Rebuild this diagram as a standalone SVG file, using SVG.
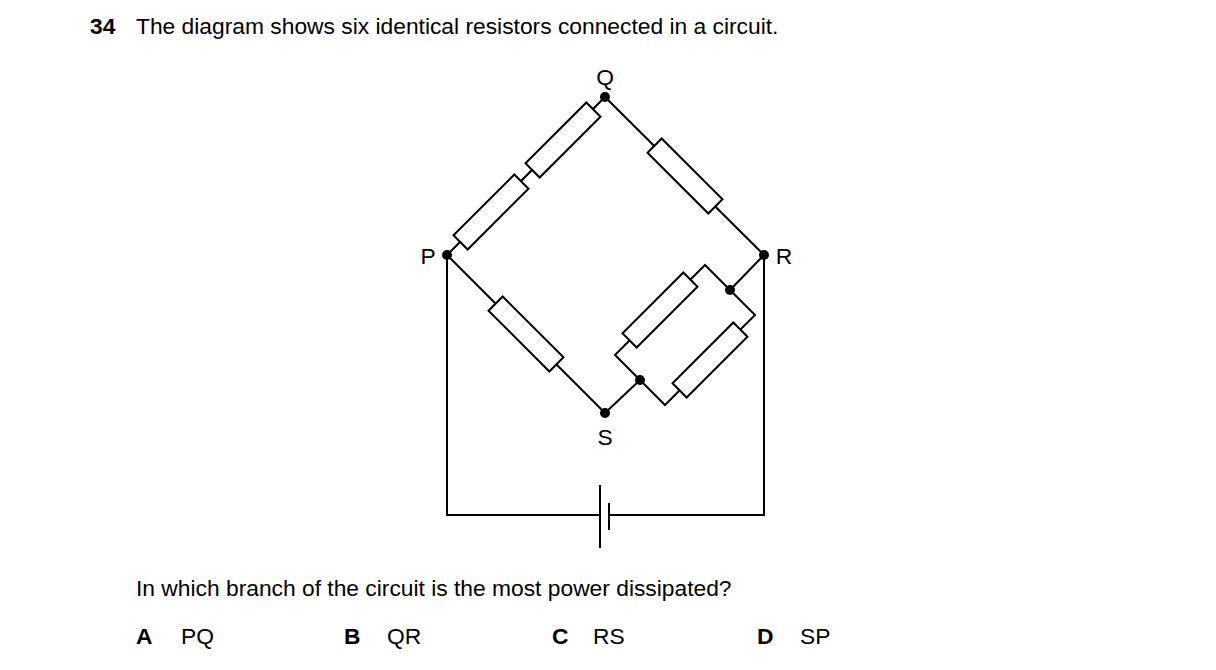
<svg xmlns="http://www.w3.org/2000/svg" width="1216" height="670" viewBox="0 0 1216 670">
<defs>
<style>
text{font-family:"Liberation Sans",Arial,sans-serif;font-size:22.8px;fill:#000}
.b{font-weight:bold}
.w{stroke:#000;stroke-width:2;fill:none}
.r{stroke:#000;stroke-width:2;fill:#fff}
.d{fill:#000}
</style>
<rect id="res" x="-43" y="-10" width="86" height="20" class="r"/>
</defs>
<rect width="1216" height="670" fill="#fff"/>
<text x="90" y="34" class="b">34</text>
<text x="136" y="34">The diagram shows six identical resistors connected in a circuit.</text>
<g id="connectors">
<path class="w" d="M605,413 L447,255 L605,97 L764,255 L730,290 M640,380 L605,413"/>
<path class="w" d="M730,290 L705,265 L615,355 L640,380 M730,290 L755,315 L665,405 L640,380"/>
<path class="w" d="M447,255 V515 H600 M609,515 H764 V255"/>
<path class="w" d="M600,485 V548 M609,503 V530"/>
</g>
<g id="PQ1"><use href="#res" transform="translate(491,212) rotate(-45)"/></g>
<g id="PQ2"><use href="#res" transform="translate(563,140) rotate(-45)"/></g>
<g id="QR"><use href="#res" transform="translate(685,176) rotate(45)"/></g>
<g id="SP"><use href="#res" transform="translate(526,334) rotate(45)"/></g>
<g id="RS1"><use href="#res" transform="translate(660,310) rotate(-45)"/></g>
<g id="RS2"><use href="#res" transform="translate(710,360) rotate(-45)"/></g>
<g id="P"><circle cx="447" cy="255" r="5" class="d"/><text x="428" y="264" text-anchor="middle">P</text></g>
<g id="Q"><circle cx="605" cy="97" r="5" class="d"/><text x="605" y="85" text-anchor="middle">Q</text></g>
<g id="R"><circle cx="764" cy="255" r="5" class="d"/><text x="784" y="264" text-anchor="middle">R</text></g>
<g id="S"><circle cx="605" cy="413" r="5" class="d"/><text x="605" y="445" text-anchor="middle">S</text></g>
<g id="J1"><circle cx="730" cy="290" r="5" class="d"/></g>
<g id="J2"><circle cx="640" cy="380" r="5" class="d"/></g>
<text x="136" y="596">In which branch of the circuit is the most power dissipated?</text>
<text x="136" y="644" class="b">A</text><text x="181" y="644">PQ</text>
<text x="344" y="644" class="b">B</text><text x="387" y="644">QR</text>
<text x="552" y="644" class="b">C</text><text x="593" y="644">RS</text>
<text x="757" y="644" class="b">D</text><text x="800" y="644">SP</text>
</svg>
